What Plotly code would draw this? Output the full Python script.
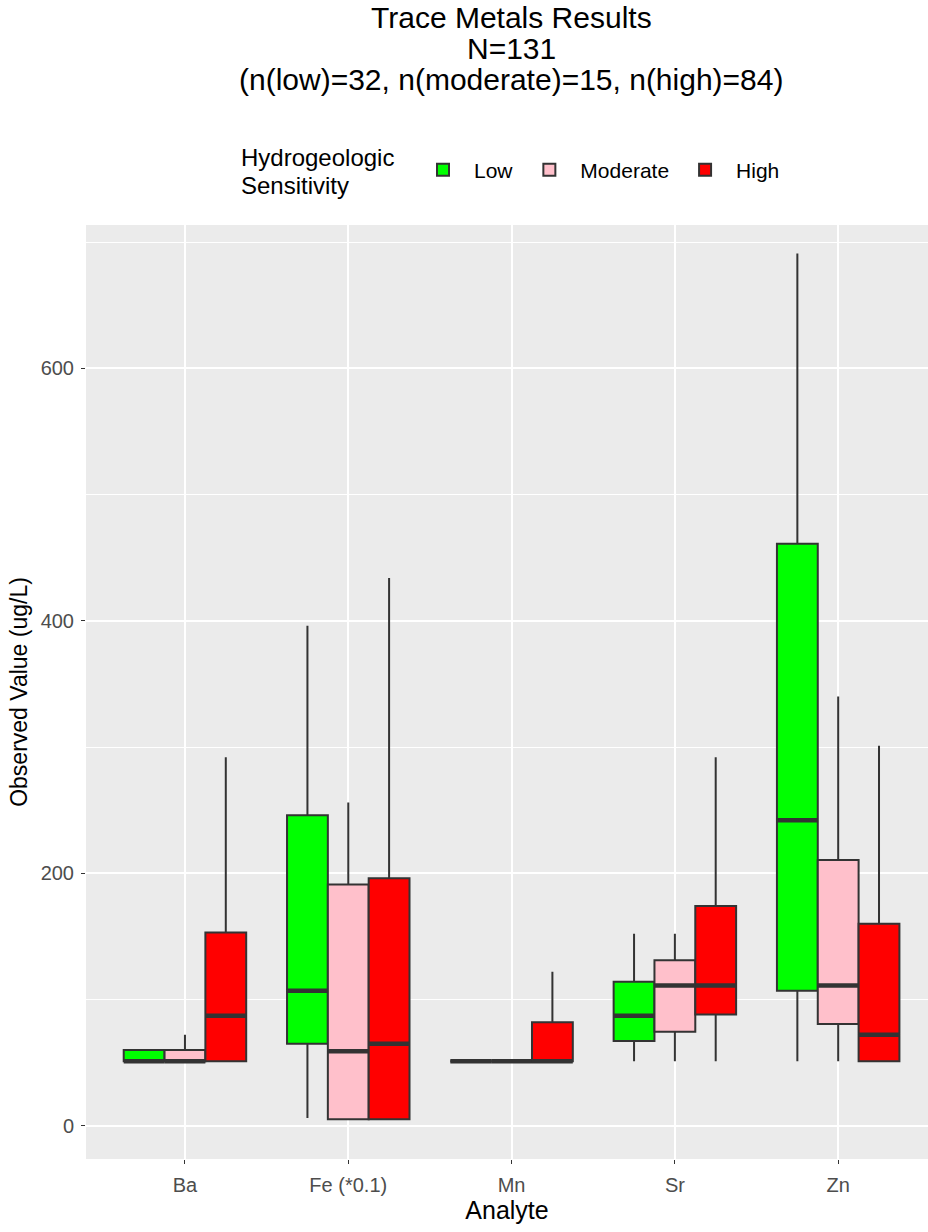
import plotly.graph_objects as go

categories = ["Ba", "Fe (*0.1)", "Mn", "Sr", "Zn"]

low_lower = [51, 6, 51, 51, 51]
low_q1 = [51, 65, 51, 67, 107]
low_median = [51, 107, 51, 87, 242]
low_q3 = [60, 246, 51, 114, 461]
low_upper = [60, 396, 51, 152, 691]

mod_lower = [51, 5, 51, 51, 51]
mod_q1 = [51, 5, 51, 74.5, 80.6]
mod_median = [51, 59, 51, 111, 111]
mod_q3 = [60, 191, 51, 131, 210.5]
mod_upper = [72, 256, 51, 152, 340]

high_lower = [51, 5, 51, 51, 51]
high_q1 = [51, 5, 51, 88, 51]
high_median = [87, 65, 51, 111, 72]
high_q3 = [153, 196, 82, 174, 160]
high_upper = [292, 434, 122, 292, 301]

title_lines = ["Trace Metals Results", "N=131", "(n(low)=32, n(moderate)=15, n(high)=84)"]
legend_title_lines = ["Hydrogeologic", "Sensitivity"]

groups = [
    ("Low", "#00FF00", low_lower, low_q1, low_median, low_q3, low_upper),
    ("Moderate", "#FFC0CB", mod_lower, mod_q1, mod_median, mod_q3, mod_upper),
    ("High", "#FF0000", high_lower, high_q1, high_median, high_q3, high_upper),
]

FONT = "Liberation Sans, Arial, sans-serif"
W, H = 928, 1232
ML, MR, MT, MB = 86, 0, 225, 73
PW = W - ML - MR
PH = H - MT - MB


def py(pix):
    return 1 + (MT - pix) / PH


def px(pix):
    return (pix - ML) / PW


fig = go.Figure()
for name, color, lo, q1, med, q3, up in groups:
    fig.add_trace(go.Box(
        x=categories, q1=q1, median=med, q3=q3,
        lowerfence=lo, upperfence=up,
        name=name, fillcolor=color, offsetgroup=name,
        line=dict(color="#333333", width=2),
        whiskerwidth=0, boxpoints=False,
    ))
for name, color, lo, q1, med, q3, up in groups:
    # thicker median bar (ggplot style)
    fig.add_trace(go.Box(
        x=categories, q1=med, median=med, q3=med,
        lowerfence=med, upperfence=med,
        name=name, offsetgroup=name, showlegend=False,
        fillcolor="rgba(0,0,0,0)",
        line=dict(color="#333333", width=4.5),
        whiskerwidth=0, boxpoints=False, hoverinfo="skip",
    ))

title_y = [18, 49, 80]
for txt, yy in zip(title_lines, title_y):
    fig.add_annotation(
        text=txt, xref="paper", yref="paper", x=0.505, y=py(yy),
        xanchor="center", yanchor="middle", showarrow=False,
        font=dict(size=30, family=FONT, color="black"),
    )

for txt, yy in zip(legend_title_lines, [158, 186]):
    fig.add_annotation(
        text=txt, xref="paper", yref="paper", x=px(239), y=py(yy),
        xanchor="left", yanchor="middle", showarrow=False,
        font=dict(size=24, family=FONT, color="black"),
    )

fig.update_layout(
    width=W, height=H,
    paper_bgcolor="white", plot_bgcolor="#EBEBEB",
    margin=dict(l=ML, r=MR, t=MT, b=MB),
    boxmode="group", boxgap=0.25, boxgroupgap=0,
    font=dict(family=FONT, color="black"),
    legend=dict(
        orientation="h", x=px(412), xanchor="left", y=py(170), yanchor="middle",
        font=dict(size=21, family=FONT),
        bgcolor="rgba(0,0,0,0)",
        itemwidth=52,
    ),
    showlegend=True,
)

fig.update_xaxes(
    range=[-0.606, 4.55],
    showgrid=True, gridcolor="white", gridwidth=2,
    ticks="outside", ticklen=4, tickcolor="#333333",
    tickfont=dict(size=20, color="#4D4D4D", family=FONT),
    ticklabelstandoff=4,
    title=dict(text="Analyte", font=dict(size=25, family=FONT), standoff=6),
    zeroline=False, showline=False,
)
fig.update_yaxes(
    range=[-26.4, 713.6],
    tickvals=[0, 200, 400, 600],
    showgrid=True, gridcolor="white", gridwidth=2,
    minor=dict(tickvals=[100, 300, 500, 700], showgrid=True, gridcolor="white", gridwidth=1, ticks=""),
    ticks="outside", ticklen=4, tickcolor="#333333",
    tickfont=dict(size=20, color="#4D4D4D", family=FONT),
    ticklabelstandoff=3,
    title=dict(text="Observed Value (ug/L)", font=dict(size=23, family=FONT), standoff=6),
    zeroline=False, showline=False,
)

fig.write_html(
    "out.html",
    config={"displayModeBar": False},
    post_script="document.body.style.margin='0px';document.body.style.overflow='hidden';",
)
